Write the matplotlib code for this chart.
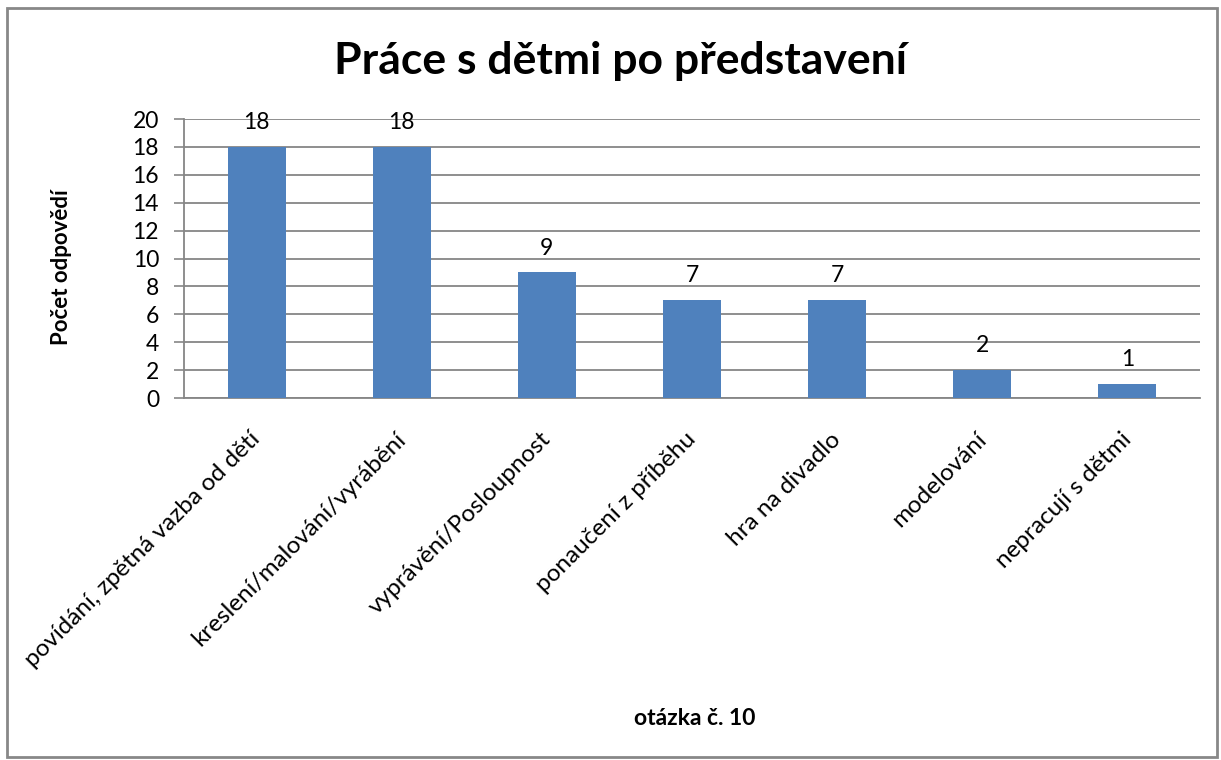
import matplotlib
matplotlib.use("Agg")
import matplotlib.pyplot as plt
from matplotlib.patches import Rectangle
from matplotlib.transforms import ScaledTranslation
import numpy as np

plt.rcParams['font.family'] = ['Lato', 'Open Sans', 'DejaVu Sans']

# data
categories = ["povídání, zpětná vazba od dětí", "kreslení/malování/vyrábění",
              "vyprávění/Posloupnost", "ponaučení z příběhu", "hra na divadlo",
              "modelování", "nepracují s dětmi"]
counts = [18, 18, 9, 7, 7, 2, 1]
y_ticks = [0, 2, 4, 6, 8, 10, 12, 14, 16, 18, 20]

title = "Práce s dětmi po představení"
x_title = "otázka č. 10"
y_title = "Počet odpovědí"

bar_color = "#4F81BD"
grid_color = "#868686"

fig = plt.figure(figsize=(12.21, 7.6), dpi=100)
ax = fig.add_axes([0.1507, 0.4763, 0.8321, 0.3671])

x = np.arange(len(categories))
bars = ax.bar(x, counts, width=0.4, color=bar_color, zorder=3)

# value labels above bars
for xi, v in zip(x, counts):
    ax.annotate(str(v), (xi, v), xytext=(0, 10), textcoords="offset points",
                ha="center", va="bottom", fontsize=16.5, zorder=4)

ax.set_xlim(-0.5, len(categories) - 0.5)
ax.set_ylim(0, 20)
ax.set_yticks(y_ticks)
ax.tick_params(axis="y", labelsize=16.5, length=7, width=1.2, color=grid_color, pad=11)
ax.set_xticks(x)
ax.set_xticklabels(categories, rotation=45, ha="right", rotation_mode="anchor", fontsize=17.5)
ax.tick_params(axis="x", length=0, pad=22)
shift = ScaledTranslation(-0.07, 0, fig.dpi_scale_trans)
for lab in ax.get_xticklabels():
    lab.set_transform(lab.get_transform() + shift)

ax.yaxis.grid(True, color=grid_color, linewidth=1.3, zorder=0)
ax.set_axisbelow(True)
for s in ["top", "right"]:
    ax.spines[s].set_visible(False)
ax.spines["left"].set_color(grid_color)
ax.spines["bottom"].set_color(grid_color)
ax.spines["left"].set_linewidth(1.3)
ax.spines["bottom"].set_linewidth(1.3)

fig.text(0.508, 0.92, title, ha="center", va="center", fontsize=32, fontweight="bold")
fig.text(0.05, 0.648, y_title, ha="center", va="center", rotation=90,
         fontsize=16, fontweight="bold")
fig.text(0.569, 0.055, x_title, ha="center", va="center", fontsize=16.5, fontweight="bold")

# chart border
fig.patches.append(Rectangle((7 / 1221, 3 / 760), 1210 / 1221, 749 / 760,
                             transform=fig.transFigure, fill=False,
                             edgecolor="#888888", linewidth=2))

fig.savefig("out.png", dpi=100)
